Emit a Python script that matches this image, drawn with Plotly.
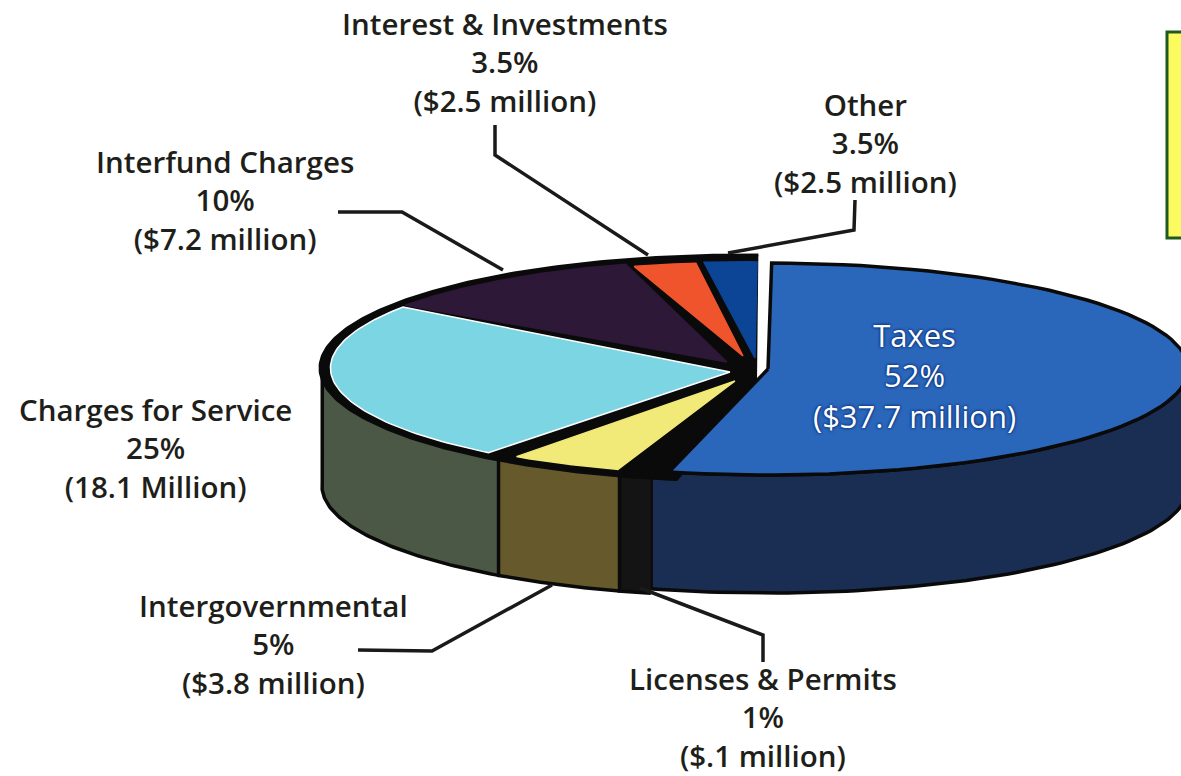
import numpy as np
import plotly.graph_objects as go

# Categories and the values printed on the chart
categories = ["Taxes", "Licenses & Permits", "Intergovernmental", "Charges for Service",
              "Interfund Charges", "Interest & Investments", "Other"]
stated_pct = ["52%", "1%", "5%", "25%", "10%", "3.5%", "3.5%"]
stated_amount = ["($37.7 million)", "($.1 million)", "($3.8 million)", "(18.1 Million)",
                 "($7.2 million)", "($2.5 million)", "($2.5 million)"]
# Share of the pie each slice actually occupies as drawn
drawn_share = [53.6, 1.0, 5.1, 24.8, 10.7, 2.8, 1.9]

top_colors = ["#2A67BB", "#111111", "#F2EA78", "#7CD5E3", "#2E1838", "#F0542D", "#0C4496"]
wall_colors = ["#1A2D52", "#141414", "#665A2C", "#4B5845", None, None, None]

# Pie geometry (pixel space of the page)
START_DEG = 0.5
CX, CY, RX, RY, DEPTH = 745, 368, 423, 110, 118
TAX_CX, TAX_CY, TAX_RX, TAX_RY = 768, 369, 420, 106
LIC_WALL_EXTRA = 0.8
TAX_WALL_EXTRA = 2.5
BACKING_EXTRA = 4.4

fig = go.Figure()


def rim(cx, cy, rx, ry, a0, a1, n=80):
    t = np.radians(np.linspace(a0, a1, n))
    return cx + rx * np.sin(t), cy - ry * np.cos(t)


def poly(x, y, fill, line="#0A0A0A", width=0):
    fig.add_trace(go.Scatter(
        x=list(x), y=list(y), mode="lines", fill="toself", fillcolor=fill,
        line=dict(color=line, width=width), hoverinfo="skip", showlegend=False))


total = sum(drawn_share)
edges = START_DEG + np.concatenate([[0], np.cumsum(drawn_share)]) * 360 / total


def geom(i):
    return (TAX_CX, TAX_CY, TAX_RX, TAX_RY) if i == 0 else (CX, CY, RX, RY)


# Walls
for i in [0, 3, 2, 1]:
    cx, cy, rx, ry = geom(i)
    a0 = max(edges[i], 90)
    a1 = min(edges[i + 1], 270)
    if i == 0:
        a1 += TAX_WALL_EXTRA
    if i == 1:
        a0 -= LIC_WALL_EXTRA
    if i == 3:
        a1 = 272
    x, y = rim(cx, cy, rx, ry, a0, a1)
    poly(np.r_[x, x[::-1]], np.r_[y, (y + DEPTH)[::-1]], wall_colors[i], width=3.5)

# Black backing of the group of non-tax slices
x, y = rim(CX, CY, RX + 2, RY + 3, edges[1] - BACKING_EXTRA, edges[-1] + 1.3, 200)
poly(np.r_[CX + 12, x], np.r_[CY + 14, y], "#0A0A0A", width=3)

# Top faces, inset so that the black gaps between them show
trim_start = [0.0, 0, 0.8, 2.6, 0.4, 0.6, 0.6]
trim_end = [0.0, 0, 1.8, 0.6, 0.2, 0.6, -1.2]
scale = [1.0, 1, 0.97, 0.98, 0.985, 0.96, 0.965]
apex_dx = [0, 0, -10, -15, -18, -2, 10]
apex_dy = [0, 0, 13, 4, -6, -12, -10]
for i in [4, 5, 6, 3, 2, 0]:
    cx, cy, rx, ry = geom(i)
    x, y = rim(cx, cy, rx * scale[i], ry * scale[i], edges[i] + trim_start[i], edges[i + 1] - trim_end[i])
    ax, ay = cx + apex_dx[i], cy + apex_dy[i]
    edge = "#FFFFFF" if i == 3 else top_colors[i]
    poly(np.r_[ax, x, ax], np.r_[ay, y, ay], top_colors[i], line=edge, width=1.5)

# Rim and outline of the taxes slice
x, y = rim(TAX_CX, TAX_CY, TAX_RX, TAX_RY, edges[0], edges[1])
fig.add_trace(go.Scatter(x=np.r_[TAX_CX, x, TAX_CX], y=np.r_[TAX_CY, y, TAX_CY], mode="lines",
                         line=dict(color="#0A0A0A", width=3.5), hoverinfo="skip", showlegend=False))

INK = "#1E1E1A"
label_pos = {
    "Taxes": (914, 375), "Licenses & Permits": (763, 717), "Intergovernmental": (273, 644),
    "Charges for Service": (155, 448), "Interfund Charges": (225, 200),
    "Interest & Investments": (505, 62), "Other": (865, 143),
}
annotations = []
for name, pct, amt in zip(categories, stated_pct, stated_amount):
    px, py = label_pos[name]
    is_tax = name == "Taxes"
    annotations.append(dict(
        x=px, y=py, xref="x", yref="y", showarrow=False, align="center",
        xanchor="center", yanchor="middle", text=f"{name}<br>{pct}<br>{amt}",
        font=dict(family="Open Sans", size=31 if is_tax else 29.5,
                  color="#FFFFFF" if is_tax else INK,
                  weight=500 if is_tax else 600,
                  shadow="0 0 3px #0B2F78, 0 0 3px #0B2F78" if is_tax else "none")))

leaders = [
    "M495,125 L495,155 L648,255",
    "M855,200 L854,230 L728,253",
    "M338,212 L402,212 L503,270",
    "M552,585 L432,651 L358,650",
    "M640,588 L763,635 L763,662",
]
shapes = [dict(type="path", path=p, xref="x", yref="y", line=dict(color="#1A1A1A", width=3.5))
          for p in leaders]
shapes.append(dict(type="rect", xref="x", yref="y", x0=1167, x1=1195, y0=32, y1=238,
                   fillcolor="#FBFB60", line=dict(color="#1E5A1E", width=3), layer="below"))

fig.update_layout(
    width=1181, height=776, autosize=False,
    margin=dict(l=0, r=0, t=0, b=0),
    paper_bgcolor="#FFFFFF", plot_bgcolor="#FFFFFF",
    xaxis=dict(range=[0, 1181], visible=False, fixedrange=True),
    yaxis=dict(range=[776, 0], visible=False, fixedrange=True),
    annotations=annotations, shapes=shapes, showlegend=False,
)
fig.write_html("out.html", config=dict(displayModeBar=False),
               post_script="document.body.style.margin='0';document.body.style.overflow='hidden';")
